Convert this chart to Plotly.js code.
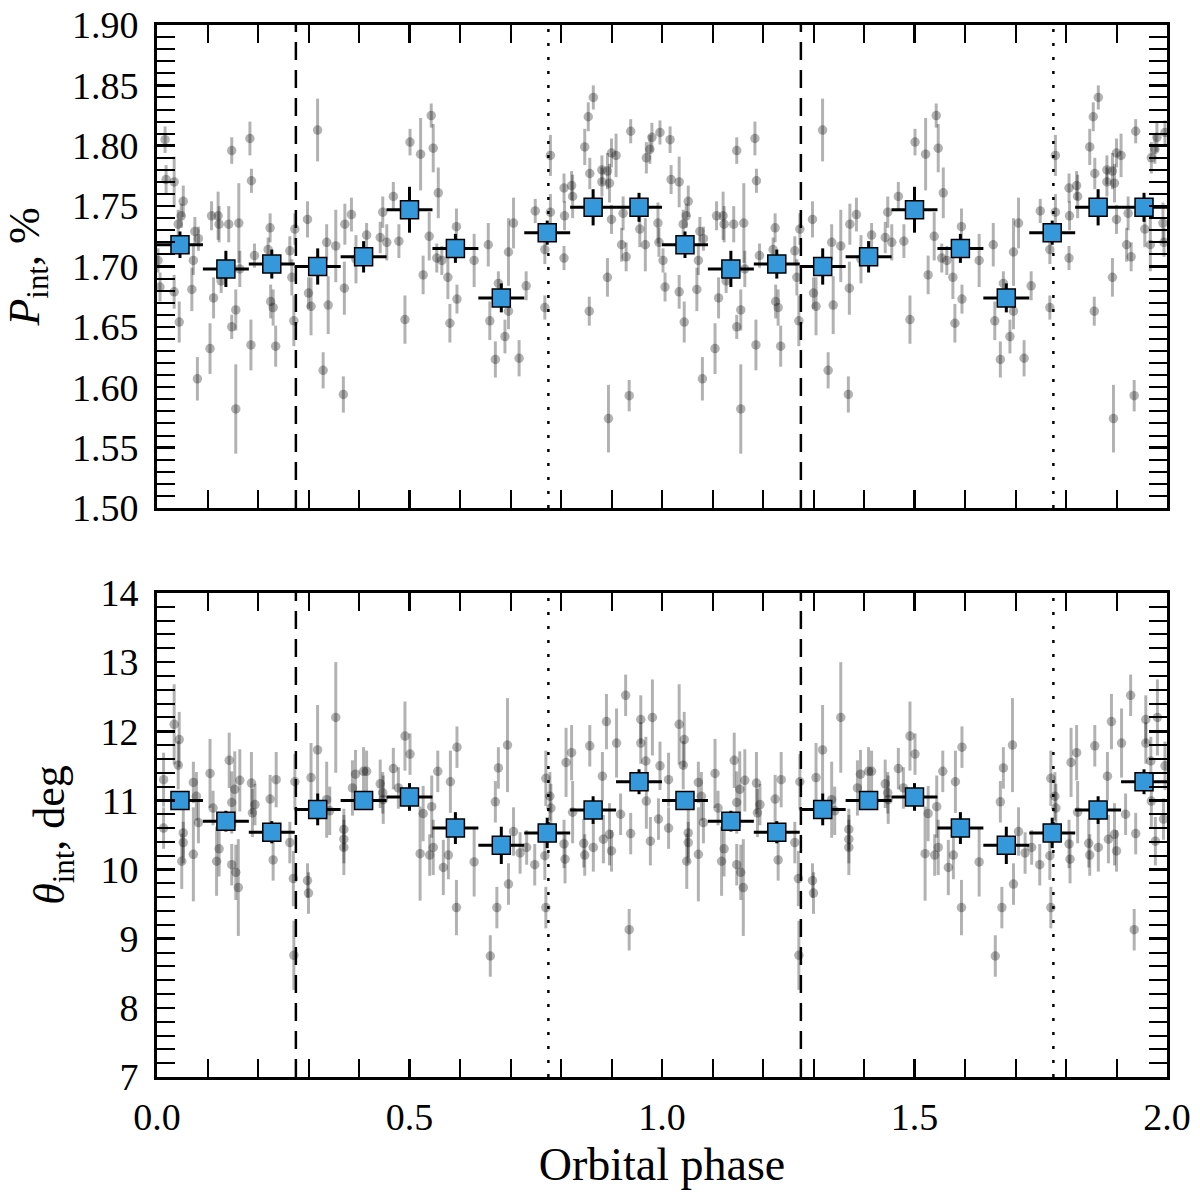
<!DOCTYPE html>
<html>
<head>
<meta charset="utf-8">
<script src="https://cdn.plot.ly/plotly-3.0.1.min.js"></script>
<style>
  html, body { margin: 0; padding: 0; background: #fff; }
  #chart { width: 1200px; height: 1200px; }
</style>
</head>
<body>
<div id="chart"></div>
<script>
// ---------- Individual observations, phase 0..1 (repeated for phase 1..2) ----------
const grayPhaseP = [0.002,0.006,0.016,0.018,0.034,0.052,0.042,0.048,0.075,0.082,0.072,0.069,0.034,0.044,0.080,
  0.148,0.184,0.187,0.108,0.121,0.123,0.142,0.162,0.112,0.105,0.148,0.156,0.156,0.127,0.164,0.193,0.186,
  0.224,0.220,0.225,0.230,0.235,0.263,0.267,0.273,0.271,0.298,0.300,0.305,0.318,0.329,0.336,0.339,
  0.354,0.372,0.385,0.371,0.369,0.394,0.415,0.442,0.447,0.455,0.468,0.479,0.491,0.501,0.522,0.543,
  0.547,0.557,0.539,0.527,0.554,0.564,0.576,0.580,0.593,0.594,0.628,0.656,0.659,0.670,0.689,0.696,
  0.706,0.676,0.696,0.717,0.731,0.749,0.768,0.768,0.779,0.779,0.806,0.807,0.806,0.821,0.823,0.847,
  0.854,0.864,0.857,0.856,0.881,0.881,0.892,0.896,0.900,0.892,0.894,0.900,0.909,0.920,0.929,0.923,
  0.935,0.938,0.956,0.967,0.969,0.976,0.980,0.992,0.994,0.996];
const grayP = [1.705,1.683,1.805,1.772,1.770,1.754,1.735,1.742,1.729,1.723,1.705,1.681,1.679,1.654,1.607,
  1.796,1.806,1.771,1.742,1.742,1.735,1.735,1.736,1.674,1.632,1.650,1.664,1.582,1.688,1.698,1.709,1.635,
  1.732,1.714,1.671,1.666,1.634,1.713,1.691,1.731,1.655,1.739,1.678,1.667,1.813,1.614,1.720,1.668,
  1.717,1.735,1.743,1.682,1.594,1.706,1.726,1.724,1.745,1.720,1.758,1.721,1.656,1.803,1.793,1.825,
  1.798,1.761,1.725,1.693,1.707,1.705,1.691,1.653,1.733,1.673,1.705,1.718,1.655,1.623,1.642,1.712,
  1.736,1.686,1.663,1.624,1.684,1.746,1.666,1.714,1.792,1.745,1.707,1.742,1.765,1.767,1.758,1.799,
  1.824,1.840,1.777,1.663,1.780,1.770,1.779,1.769,1.739,1.691,1.574,1.794,1.792,1.718,1.708,1.744,
  1.593,1.812,1.731,1.718,1.790,1.797,1.807,1.736,1.720,1.811];
const grayPErr = [0.010,0.012,0.011,0.012,0.021,0.013,0.012,0.010,0.012,0.010,0.012,0.018,0.014,0.017,0.018,
  0.011,0.014,0.010,0.012,0.020,0.015,0.015,0.033,0.017,0.021,0.010,0.017,0.037,0.010,0.015,0.010,0.021,
  0.012,0.010,0.014,0.015,0.017,0.012,0.015,0.013,0.021,0.015,0.013,0.024,0.026,0.015,0.015,0.024,
  0.030,0.017,0.014,0.022,0.015,0.020,0.010,0.013,0.013,0.015,0.012,0.014,0.020,0.011,0.030,0.010,
  0.020,0.021,0.020,0.016,0.012,0.012,0.018,0.016,0.015,0.012,0.022,0.018,0.016,0.015,0.014,0.028,
  0.021,0.010,0.015,0.015,0.012,0.010,0.010,0.012,0.017,0.015,0.010,0.012,0.012,0.012,0.018,0.015,
  0.012,0.010,0.013,0.012,0.012,0.012,0.015,0.016,0.012,0.016,0.028,0.012,0.018,0.014,0.012,0.014,
  0.013,0.010,0.015,0.022,0.013,0.012,0.012,0.017,0.012,0.010];

const grayPhaseT = [0.013,0.013,0.034,0.044,0.042,0.052,0.052,0.049,0.072,0.078,0.082,0.072,0.105,0.111,0.118,
  0.123,0.143,0.148,0.154,0.164,0.148,0.156,0.161,0.187,0.189,0.194,0.224,0.236,0.230,0.263,0.270,0.273,
  0.271,0.298,0.300,0.305,0.318,0.336,0.342,0.354,0.370,0.370,0.370,0.387,0.393,0.409,0.415,0.442,
  0.447,0.448,0.468,0.478,0.491,0.501,0.527,0.521,0.540,0.544,0.547,0.556,0.567,0.577,0.581,0.594,
  0.593,0.628,0.660,0.670,0.673,0.676,0.694,0.696,0.706,0.719,0.732,0.748,0.768,0.770,0.778,0.780,
  0.770,0.806,0.808,0.810,0.821,0.823,0.845,0.847,0.857,0.864,0.882,0.884,0.890,0.896,0.900,0.910,
  0.918,0.928,0.935,0.938,0.958,0.958,0.968,0.969,0.977,0.981,0.993,0.996];
const grayTheta = [11.30,10.60,12.10,11.88,11.51,10.53,10.39,10.12,11.26,11.06,10.68,10.22,11.39,10.89,10.12,
  10.30,11.58,10.97,11.16,11.29,10.07,9.96,9.74,11.25,10.82,10.94,11.02,11.30,10.14,10.39,9.87,11.27,
  8.76,9.84,9.66,11.33,11.73,11.01,10.85,12.20,10.58,10.44,10.32,11.18,11.38,11.42,11.42,11.24,
  11.11,11.01,11.46,11.18,11.93,11.67,10.81,10.23,10.21,10.91,10.32,11.42,10.03,10.21,11.27,11.77,
  9.45,10.11,8.75,10.98,9.45,11.47,11.80,9.79,10.55,10.24,10.32,10.07,10.20,11.32,11.06,10.89,
  9.45,10.37,10.15,11.55,11.69,10.83,10.38,10.21,11.79,10.32,11.35,10.44,12.14,10.51,10.27,11.83,
  10.80,12.52,9.13,10.52,12.17,11.83,11.57,10.99,10.41,12.20,10.73,11.50];
const grayThetaErr = [0.39,0.30,0.58,0.40,0.35,0.35,0.30,0.40,0.30,0.35,0.30,0.68,0.50,0.25,0.50,
  0.40,0.40,0.45,0.55,0.45,0.30,0.40,0.70,0.45,0.35,0.30,0.35,0.40,0.30,0.30,0.40,0.40,
  0.50,0.25,0.30,0.50,0.65,0.55,0.35,0.80,0.30,0.35,0.40,0.40,0.35,0.35,0.30,0.35,
  0.30,0.35,0.30,0.30,0.50,0.30,0.40,0.68,0.30,0.45,0.40,0.30,0.40,0.35,0.45,0.30,
  0.40,0.50,0.30,0.30,0.30,0.30,0.68,0.30,0.35,0.30,0.25,0.30,0.35,0.40,0.35,0.35,
  0.30,0.35,0.35,0.50,0.40,0.45,0.35,0.30,0.30,0.35,0.35,0.35,0.40,0.45,0.30,0.50,
  0.30,0.30,0.30,0.30,0.35,0.30,0.35,0.40,0.35,0.55,0.30,0.35];

// ---------- Binned averages ----------
const binPhase = [0.0455,0.1364,0.2273,0.3182,0.4091,0.5,0.5909,0.6818,0.7727,0.8636,0.9545];
const binHalfWidth = [0.0455,0.0455,0.0455,0.0455,0.0455,0.0455,0.0455,0.0455,0.0455,0.0455,0.0455];
const binP = [1.718,1.698,1.702,1.700,1.708,1.747,1.715,1.674,1.728,1.749,1.749];
const binPErr = [0.011,0.015,0.012,0.015,0.013,0.019,0.012,0.012,0.010,0.015,0.012];
const binTheta = [11.00,10.70,10.54,10.87,11.00,11.05,10.60,10.35,10.53,10.86,11.27];
const binThetaErr = [0.13,0.15,0.16,0.23,0.13,0.20,0.23,0.27,0.22,0.20,0.18];

// ---------- Reference phases ----------
const dashedPhases = [0.275, 1.275];
const dottedPhases = [0.775, 1.775];
const cycles = [0, 1];

// ---------- build ----------
function twoCycles(arr) { return cycles.flatMap(c => arr.map(v => v + c)); }
function rep(arr) { return cycles.flatMap(() => arr); }

const grayCol = 'rgba(0,0,0,0.3)';
const blue = '#3498db';
const FONT = 'Liberation Serif, Times New Roman, serif';

function grayTrace(xs, ys, es, xa, ya) {
  return {
    type: 'scatter', mode: 'markers', xaxis: xa, yaxis: ya,
    x: twoCycles(xs), y: rep(ys),
    error_y: { type: 'data', array: rep(es), color: grayCol, thickness: 3, width: 0 },
    marker: { size: 9.5, color: grayCol },
    hoverinfo: 'skip', showlegend: false
  };
}
function binTrace(ys, es, xa, ya) {
  return {
    type: 'scatter', mode: 'markers', xaxis: xa, yaxis: ya,
    x: twoCycles(binPhase), y: rep(ys),
    error_y: { type: 'data', array: rep(es), color: 'black', thickness: 3, width: 0 },
    error_x: { type: 'data', array: rep(binHalfWidth), color: 'black', thickness: 3, width: 0 },
    marker: { symbol: 'square', size: 18, color: blue, line: { color: 'black', width: 1.5 } },
    showlegend: false
  };
}
// invisible helper traces so the mirrored minor-tick axes are drawn
function helper(xa, ya) {
  return { type: 'scatter', mode: 'markers', xaxis: xa, yaxis: ya, x: [null], y: [null],
    hoverinfo: 'skip', showlegend: false };
}

const data = [
  grayTrace(grayPhaseP, grayP, grayPErr, 'x', 'y'),
  binTrace(binP, binPErr, 'x', 'y'),
  grayTrace(grayPhaseT, grayTheta, grayThetaErr, 'x2', 'y2'),
  binTrace(binTheta, binThetaErr, 'x2', 'y2'),
  helper('x3', 'y'), helper('x', 'y3'),
  helper('x4', 'y2'), helper('x2', 'y4')
];

const shapes = [];
[['x','y domain'],['x2','y2 domain']].forEach(([xr, yr]) => {
  dashedPhases.forEach(p => shapes.push({ type: 'line', xref: xr, yref: yr, x0: p, x1: p, y0: 0, y1: 1,
    layer: 'below', line: { color: 'black', width: 2.5, dash: '18px,10px' } }));
  dottedPhases.forEach(p => shapes.push({ type: 'line', xref: xr, yref: yr, x0: p, x1: p, y0: 0, y1: 1,
    layer: 'below', line: { color: 'black', width: 2.5, dash: '3px,11px' } }));
});

const tickFont = { family: FONT, size: 38, color: 'black' };
const titleFont = { family: FONT, size: 46, color: 'black' };
const yTitleFont = { family: FONT, size: 44, color: 'black' };

function xAxis(anchor, showLabels) {
  const a = {
    domain: [0, 1], anchor: anchor, range: [0, 2], dtick: 0.5, tick0: 0,
    tickformat: '.1f', showticklabels: showLabels,
    ticks: 'inside', ticklen: 18, tickwidth: 2.5, tickcolor: 'black',
    mirror: 'allticks', showline: true, linewidth: 3, linecolor: 'black',
    showgrid: false, zeroline: false, tickfont: tickFont, ticklabelstandoff: 4,
    minor: { dtick: 0.1, tick0: 0, ticks: 'inside', ticklen: 9, tickwidth: 2, tickcolor: 'black', showgrid: false }
  };
  if (showLabels) a.title = { text: 'Orbital phase', font: titleFont, standoff: 12 };
  return a;
}
function yAxis(anchor, domain, range, dtick, minorDtick, fmt, title) {
  return {
    domain: domain, anchor: anchor, range: range, dtick: dtick, tick0: range[0],
    tickformat: fmt,
    ticks: 'inside', ticklen: 18, tickwidth: 2.5, tickcolor: 'black',
    mirror: 'allticks', showline: true, linewidth: 3, linecolor: 'black',
    showgrid: false, zeroline: false, tickfont: tickFont, ticklabelstandoff: 8,
    minor: { dtick: minorDtick, tick0: range[0], ticks: 'inside', ticklen: 9, tickwidth: 2, tickcolor: 'black', showgrid: false },
    title: { text: title, font: yTitleFont, standoff: 22 }
  };
}
// overlay axes carrying the minor ticks on the top and right edges
function minorOverlayX(over, anchor) {
  return { overlaying: over, anchor: anchor, side: 'top', range: [0, 2], tick0: 0, dtick: 0.1,
    ticks: 'inside', ticklen: 9, tickwidth: 2, tickcolor: 'black', showticklabels: false,
    showline: false, showgrid: false, zeroline: false };
}
function minorOverlayY(over, anchor, range, dtick) {
  return { overlaying: over, anchor: anchor, side: 'right', range: range, tick0: range[0], dtick: dtick,
    ticks: 'inside', ticklen: 9, tickwidth: 2, tickcolor: 'black', showticklabels: false,
    showline: false, showgrid: false, zeroline: false };
}

const layout = {
  width: 1200, height: 1200,
  margin: { l: 157, r: 33, t: 25, b: 123 },
  paper_bgcolor: 'white', plot_bgcolor: 'white',
  font: { family: FONT, color: 'black' },
  xaxis: xAxis('y', false),
  xaxis2: xAxis('y2', true),
  yaxis: yAxis('x', [0.5409, 1], [1.5, 1.9], 0.05, 0.01, '.2f', '<i>P</i><sub>int</sub>, %'),
  yaxis2: yAxis('x2', [0, 0.4601], [7, 14], 1, 0.2, 'd', '<i>θ</i><sub>int</sub>, deg'),
  xaxis3: minorOverlayX('x', 'y'),
  yaxis3: minorOverlayY('y', 'x', [1.5, 1.9], 0.01),
  xaxis4: minorOverlayX('x2', 'y2'),
  yaxis4: minorOverlayY('y2', 'x2', [7, 14], 0.2),
  shapes: shapes,
  showlegend: false
};

Plotly.newPlot('chart', data, layout, { staticPlot: true, displayModeBar: false });
</script>
</body>
</html>
